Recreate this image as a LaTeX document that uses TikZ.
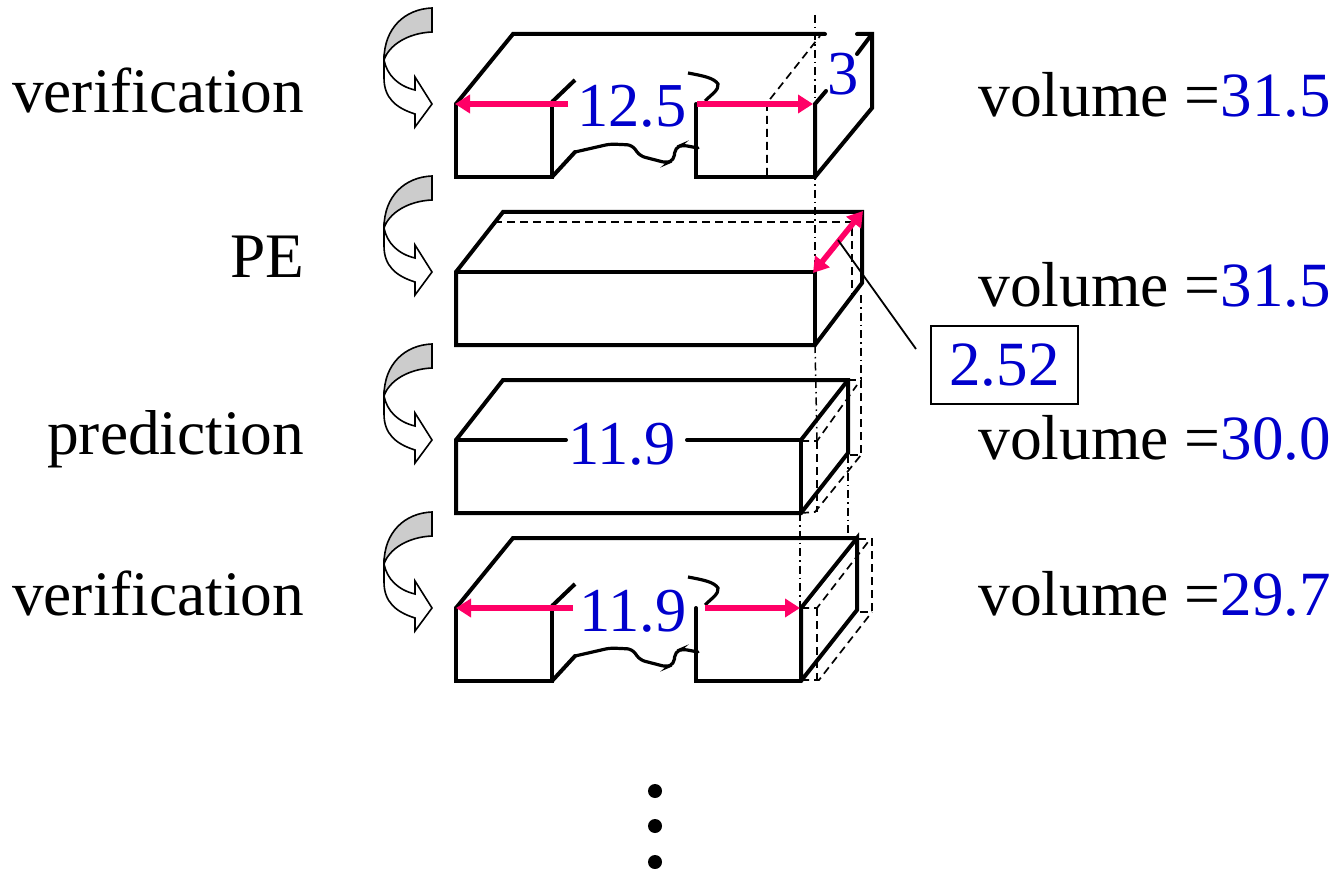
\documentclass[tikz,border=0pt]{standalone}
\usepackage{fontspec}
\setmainfont{Liberation Serif}
\usetikzlibrary{arrows.meta}
\definecolor{valblue}{RGB}{0,0,204}
\definecolor{dimred}{RGB}{255,0,102}
\definecolor{fillgrey}{RGB}{204,204,204}
\tikzset{
  x=1pt,y=-1pt,
  edge/.style={line width=4pt,line cap=round,line join=miter},
  hid/.style={line width=1.7pt,dash pattern=on 8pt off 5pt},
  axis/.style={line width=1.5pt,dash pattern=on 8pt off 4pt on 1.5pt off 4pt},
  dim/.style={line width=5.6pt,draw=dimred,{Triangle[length=15pt,width=18pt]}-{Triangle[length=15pt,width=18pt]}},
  dimfree/.style={line width=5.6pt,draw=dimred,-{Triangle[length=15pt,width=18pt]}},
  lab/.style={inner sep=0pt,anchor=base east,font=\fontsize{63.4}{70}\selectfont},
  val/.style={inner sep=0pt,anchor=base,text=valblue,font=\fontsize{62.5}{70}\selectfont},
  vol/.style={inner sep=0pt,anchor=base west,font=\fontsize{63.6}{70}\selectfont},
  turn/.style={draw=black,line width=1.6pt,line join=miter}
}
\newcommand{\turnarrow}[1]{%
  \begin{scope}[yshift=-#1pt]
    \path[turn,fill=fillgrey] (432,8) .. controls (405,9) and (384,28) .. (384,60)
      .. controls (389,45) and (408,33) .. (432,32) -- cycle;
    \path[turn,fill=white] (384,60) .. controls (387,75) and (398,86) .. (415,90)
      -- (415,77) -- (432,104) -- (415,127) -- (415,114)
      .. controls (396,108) and (384,98) .. (384,78) -- cycle;
  \end{scope}}
\newcommand{\notchbody}[3]{%
  \begin{scope}[yshift=-#1pt]
    \draw[edge] (456,104) -- (456,177) -- (552,177) -- (552,104);
    \draw[edge] (552,177) -- (575,152);
    \draw[edge,line width=3.2pt,rounded corners=5pt] (575,152) -- (610,144) -- (632,145) -- (640,156) -- (667,163) -- (674,160) -- (675,148) -- (682,145) -- (698,148);
    \draw[edge,line cap=butt] (552,102) -- (575,80);
    \draw[edge,line width=3.2pt,line cap=butt] (688,73) .. controls (704,76) and (714,78) .. (718,84) .. controls (719,90) and (712,94) .. (705,101);
    \draw[edge] (696,104) -- (696,177) -- (#2,177);
    \draw[edge] (456,104) -- (513,34) -- (#3,34);
  \end{scope}}
\begin{document}
\begin{tikzpicture}
\useasboundingbox (0,0) rectangle (1339,869);

% curved arrows
\turnarrow{0}
\turnarrow{168}
\turnarrow{336}
\turnarrow{504}

% block 1
\draw[axis] (815,15) -- (815,188);
\notchbody{0}{815}{825}
\draw[edge] (815,177) -- (815,104) -- (826,91);
\draw[edge] (857,34) -- (872,34) -- (872,108) -- (815,177);
\draw[edge] (857,54) -- (872,34);
\draw[hid] (767,176) -- (767,103) -- (820,36);
\coordinate (a1l) at (455,104);
\coordinate (a1m) at (568,104);
\coordinate (a1r) at (697,104);
\coordinate (a1e) at (813,104);
\draw[dimfree] (a1m) -- (a1l);
\draw[dimfree] (a1r) -- (a1e);
\node[val] (v125) at (632,127) {12.5};
\node[val] (v3) at (843,95) {3};

% block 2
\draw[axis] (815,190) -- (815,345);
\draw[hid] (494,222) -- (852,222) -- (852,295);
\draw[edge] (456,272) -- (503,212) -- (862,212) -- (862,283) -- (815,345) -- (456,345) -- cycle;
\draw[edge] (456,272) -- (815,272) -- (815,345);
\coordinate (a2a) at (813,273);
\coordinate (a2b) at (863,211);
\draw[dim] (a2a) -- (a2b);
\node[draw=black,line width=1.7pt,minimum width=147pt,minimum height=78pt,inner sep=0pt,anchor=center,text=valblue,font=\fontsize{63}{70}\selectfont] (b252) at (1004.5,365) {2.52};
\coordinate (lead) at (838,240);
\coordinate (leadend) at (916,349);
\draw[line width=1.8pt] (lead) -- (leadend);

% block 3
\draw[axis] (815,345) -- (817,440);
\draw[axis] (861,295) -- (861,379);
\draw[hid] (848,380) -- (861,380) -- (861,455) -- (848,455);
\draw[hid] (801,441) -- (817,441) -- (857,385);
\draw[hid] (817,441) -- (817,512);
\draw[hid] (801,513) -- (815,512) -- (861,455);
\draw[edge] (456,440) -- (503,380) -- (848,380) -- (848,453) -- (801,513) -- (456,513) -- cycle;
\draw[edge] (456,440) -- (566,440);
\draw[edge] (687,440) -- (801,440) -- (801,513);
\draw[edge] (801,440) -- (848,380);
\node[val] (v119a) at (622,464) {11.9};

% block 4
\draw[axis] (800,513) -- (800,607);
\draw[axis] (848,455) -- (848,537);
\draw[hid] (858,539) -- (872,539) -- (872,612) -- (858,612);
\draw[hid] (801,608) -- (817,608) -- (868,542);
\draw[hid] (817,608) -- (817,680);
\draw[hid] (801,680) -- (819,680) -- (872,612);
\notchbody{504}{801}{857}
\draw[edge] (801,681) -- (801,608) -- (857,538) -- (857,610) -- (801,681);
\coordinate (a4l) at (456,608);
\coordinate (a4m) at (573,608);
\coordinate (a4r) at (705,608);
\coordinate (a4e) at (800,608);
\draw[dimfree] (a4m) -- (a4l);
\draw[dimfree] (a4r) -- (a4e);
\node[val] (v119b) at (633,631) {11.9};

% labels
\node[lab] (l1) at (304.5,112.5) {verification};
\node[lab] (l2) at (304.5,277.5) {PE};
\node[lab] (l3) at (304.5,454) {prediction};
\node[lab] (l4) at (304.5,615.5) {verification};

\node[vol] (vol1) at (978,117) {volume =\textcolor{valblue}{\fontsize{63}{70}\selectfont 31.5}};
\node[vol] (vol2) at (978,306) {volume =\textcolor{valblue}{\fontsize{63}{70}\selectfont 31.5}};
\node[vol] (vol3) at (978,459) {volume =\textcolor{valblue}{\fontsize{63}{70}\selectfont 30.0}};
\node[vol] (vol4) at (978,615) {volume =\textcolor{valblue}{\fontsize{63}{70}\selectfont 29.7}};

% dots
\fill (655,791) circle (7pt);
\fill (655,826) circle (7pt);
\fill (655,862) circle (7pt);
\end{tikzpicture}
\end{document}
